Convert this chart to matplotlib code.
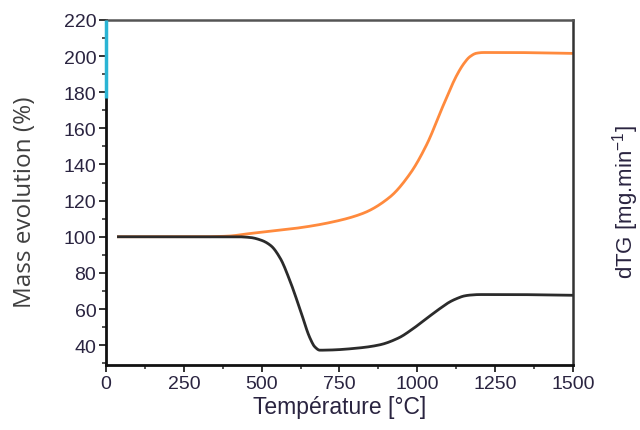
import matplotlib
matplotlib.use("Agg")
import matplotlib.pyplot as plt
import numpy as np
from matplotlib.ticker import MultipleLocator

# Data
temp_black = [40, 150, 300, 420, 463, 500, 530, 560, 590, 623, 655, 671, 687, 720, 816, 880, 940, 987, 1030, 1073, 1105, 1127, 1150, 1169, 1200, 1300, 1420, 1500]
mass_black = [100, 100, 100, 100, 99.6, 98, 95, 88, 76, 60, 44, 39, 37.2, 37.3, 38.5, 40.2, 44, 49.2, 54.8, 60.3, 64, 65.8, 67.2, 67.7, 68, 68, 67.8, 67.6]

temp_orange = [40, 150, 300, 388, 463, 623, 720, 826, 912, 977, 1030, 1084, 1127, 1150, 1169, 1190, 1212, 1300, 1400, 1500]
mass_orange = [100, 100, 100, 100.3, 101.8, 105, 107.9, 113, 122, 135, 151, 173, 189.5, 196, 199.7, 201.6, 202, 202, 201.8, 201.5]

x_ticks = [0, 250, 500, 750, 1000, 1250, 1500]
y_ticks = [40, 60, 80, 100, 120, 140, 160, 180, 200, 220]
x_limits = (0, 1500)
y_limits = (29, 220)
cyan_segment = (177, 220)

fig = plt.figure(figsize=(6.4, 4.31), dpi=100)
ax = fig.add_axes([0.1656, 0.1508, 0.7297, 0.8005])

def smooth(xs, ys, n=600):
    xs = np.asarray(xs, float); ys = np.asarray(ys, float)
    # monotone cubic (PCHIP) interpolation for a smooth drawn curve
    h = np.diff(xs); d = np.diff(ys) / h
    m = np.zeros_like(xs)
    for k in range(1, len(xs) - 1):
        if d[k-1] * d[k] > 0:
            w1 = 2*h[k] + h[k-1]; w2 = h[k] + 2*h[k-1]
            m[k] = (w1 + w2) / (w1 / d[k-1] + w2 / d[k])
    m[0] = d[0]; m[-1] = d[-1]
    xx = np.linspace(xs[0], xs[-1], n)
    idx = np.clip(np.searchsorted(xs, xx) - 1, 0, len(xs) - 2)
    t = (xx - xs[idx]) / h[idx]
    h00 = 2*t**3 - 3*t**2 + 1; h10 = t**3 - 2*t**2 + t
    h01 = -2*t**3 + 3*t**2; h11 = t**3 - t**2
    yy = h00*ys[idx] + h10*h[idx]*m[idx] + h01*ys[idx+1] + h11*h[idx]*m[idx+1]
    return xx, yy

xo, yo = smooth(temp_orange, mass_orange)
xb, yb = smooth(temp_black, mass_black)
ax.plot(xo, yo, color="#ff8a3d", lw=2.0)
ax.plot(xb, yb, color="#2b2b2b", lw=2.0)

ax.set_xlim(*x_limits)
ax.set_ylim(*y_limits)
ax.set_xticks(x_ticks)
ax.set_yticks(y_ticks)
ax.xaxis.set_minor_locator(MultipleLocator(125))
ax.yaxis.set_minor_locator(MultipleLocator(10))

tick_family = ["Liberation Sans", "DejaVu Sans"]
for lab in ax.get_xticklabels() + ax.get_yticklabels():
    lab.set_fontfamily(tick_family)
    lab.set_fontsize(14)
    lab.set_color("#2a2440")

ax.tick_params(which="major", direction="out", length=5, width=1.3, color="#222", pad=2)
ax.tick_params(which="minor", direction="out", length=3, width=1.1, color="#222")
ax.tick_params(right=False, top=False)

ax.spines["left"].set_linewidth(2.0)
ax.spines["bottom"].set_linewidth(2.0)
ax.spines["left"].set_color("#111")
ax.spines["bottom"].set_color("#111")
ax.spines["right"].set_linewidth(1.8)
ax.spines["right"].set_color("#333")
ax.spines["top"].set_linewidth(1.8)
ax.spines["top"].set_color("#555")

ax.plot([x_limits[0], x_limits[0]], list(cyan_segment), color="#2ab4d4", lw=2.5,
        clip_on=False, zorder=5, solid_capstyle="butt")

ax.set_xlabel("Température [°C]", family=tick_family,
              fontsize=16.5, color="#2a2440", labelpad=2)
fig.text(0.039, 0.53, "Mass evolution (%)", rotation=90, ha="center", va="center",
         family=["Open Sans", "DejaVu Sans"], fontsize=17.5, color="#404040")
fig.text(0.977, 0.531, "dTG [mg.min$^{\\mathregular{-1}}$]", rotation=90, ha="center", va="center",
         family=tick_family, fontsize=16, color="#2a2440")

fig.savefig("out.png", dpi=100)
